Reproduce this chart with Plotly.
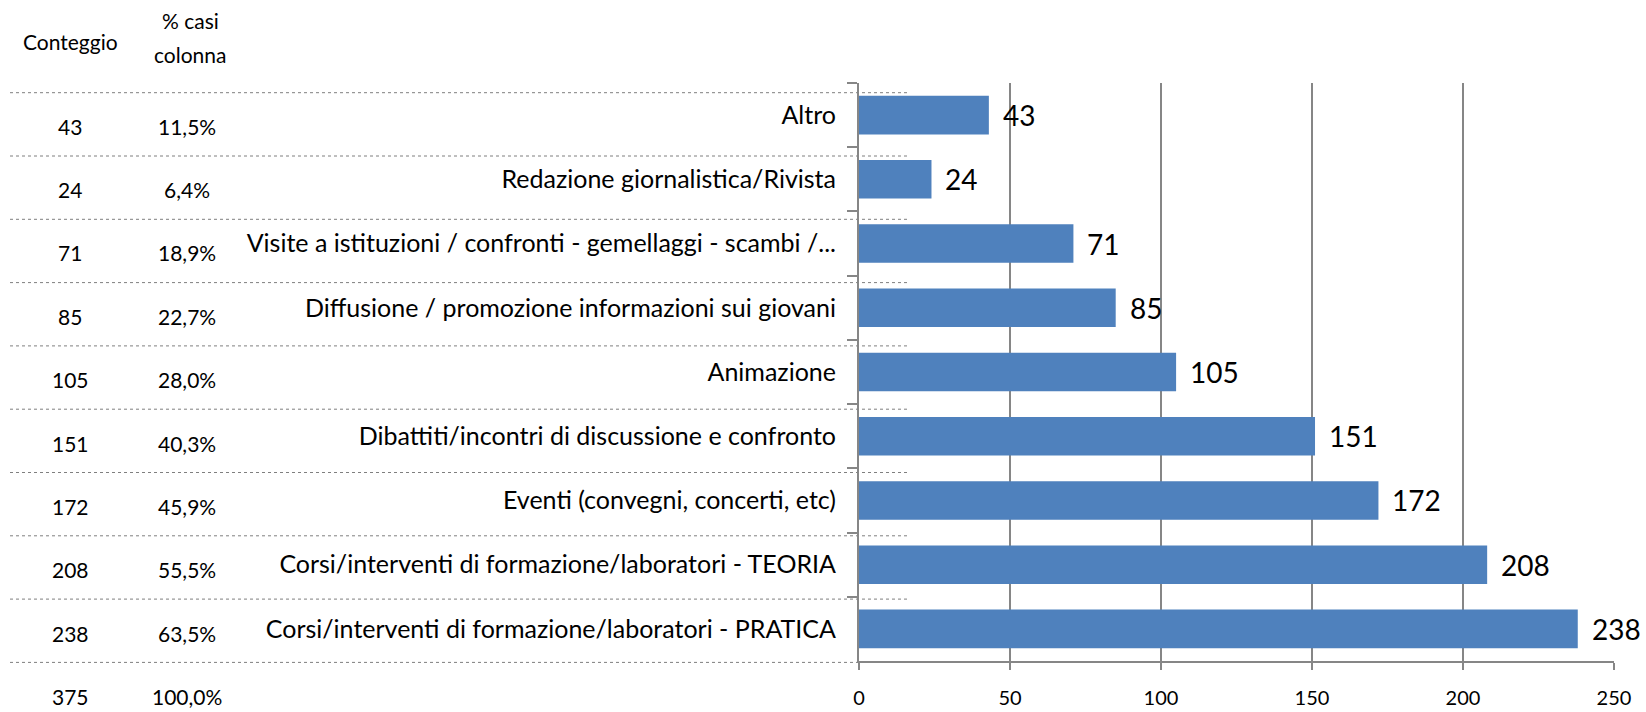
import plotly.graph_objects as go

# ---- data ----
categories = [
    "Altro",
    "Redazione giornalistica/Rivista",
    "Visite a istituzioni / confronti - gemellaggi - scambi /...",
    "Diffusione / promozione informazioni sui giovani",
    "Animazione",
    "Dibattiti/incontri di discussione e confronto",
    "Eventi (convegni, concerti, etc)",
    "Corsi/interventi di formazione/laboratori - TEORIA",
    "Corsi/interventi di formazione/laboratori - PRATICA",
]
counts = [43, 24, 71, 85, 105, 151, 172, 208, 238]
percents = ["11,5%", "6,4%", "18,9%", "22,7%", "28,0%", "40,3%", "45,9%", "55,5%", "63,5%"]
total_count = 375
total_percent = "100,0%"
header_count = "Conteggio"
header_pct = ["% casi", "colonna"]
x_ticks = [0, 50, 100, 150, 200, 250]

# ---- layout geometry (pixels) ----
W, H = 1646, 712
L, R, T, B = 859, 32, 83, 51
PW, PH = W - L - R, H - T - B

def px(x):
    return (x - L) / PW

def py(y):
    return 1 - (y - T) / PH

FONT = "Lato"
BLUE = "#4F81BD"
GRID = "#868686"

fig = go.Figure(go.Bar(
    x=counts, y=categories, orientation="h",
    marker=dict(color=BLUE, line=dict(width=0)),
    hoverinfo="x+y",
))

annotations = []
# value labels
for c, v in zip(categories, counts):
    annotations.append(dict(x=v, y=c, xref="x", yref="y", text=str(v),
                            showarrow=False, xanchor="left", xshift=12,
                            font=dict(family=FONT, size=28, color="black")))

# table on the left
TF = 21
col1_x, col2_x = 70, 187
annotations.append(dict(x=px(col1_x), y=py(42), xref="paper", yref="paper",
                        text=header_count, showarrow=False, xanchor="center",
                        yanchor="middle", font=dict(family=FONT, size=TF, color="black")))
for i, t in enumerate(header_pct):
    annotations.append(dict(x=px(190), y=py(21 + 34 * i), xref="paper", yref="paper",
                            text=t, showarrow=False, xanchor="center", yanchor="middle",
                            font=dict(family=FONT, size=TF, color="black")))
row0, rstep = 126, 63.4
for i, (c, p) in enumerate(zip(counts, percents)):
    yy = py(row0 + rstep * i)
    annotations.append(dict(x=px(col1_x), y=yy, xref="paper", yref="paper", text=str(c),
                            showarrow=False, xanchor="center", yanchor="middle",
                            font=dict(family=FONT, size=TF, color="black")))
    annotations.append(dict(x=px(col2_x), y=yy, xref="paper", yref="paper", text=p,
                            showarrow=False, xanchor="center", yanchor="middle",
                            font=dict(family=FONT, size=TF, color="black")))
yy = py(row0 + rstep * len(counts))
annotations.append(dict(x=px(col1_x), y=yy, xref="paper", yref="paper", text=str(total_count),
                        showarrow=False, xanchor="center", yanchor="middle",
                        font=dict(family=FONT, size=TF, color="black")))
annotations.append(dict(x=px(col2_x), y=yy, xref="paper", yref="paper", text=total_percent,
                        showarrow=False, xanchor="center", yanchor="middle",
                        font=dict(family=FONT, size=TF, color="black")))

# dotted separators
shapes = []
d0, dstep = 92.7, 63.3
for k in range(len(counts) + 1):
    yy = py(d0 + dstep * k)
    shapes.append(dict(type="line", xref="paper", yref="paper",
                       x0=px(10), x1=px(910), y0=yy, y1=yy,
                       line=dict(color="#7f7f7f", width=1, dash="dot"), layer="below"))

fig.update_layout(
    width=W, height=H,
    margin=dict(l=L, r=R, t=T, b=B, autoexpand=False),
    paper_bgcolor="white", plot_bgcolor="white",
    showlegend=False,
    bargap=0.4,
    annotations=annotations,
    shapes=shapes,
    font=dict(family=FONT, color="black"),
)
fig.update_xaxes(
    range=[0, 250], tickvals=x_ticks, ticktext=[str(t) for t in x_ticks],
    showgrid=True, gridcolor=GRID, gridwidth=2,
    showline=True, linecolor=GRID, linewidth=2,
    ticks="outside", ticklen=7, tickcolor=GRID, tickwidth=2,
    tickfont=dict(family=FONT, size=20, color="black"),
    ticklabelstandoff=11, zeroline=False, fixedrange=True,
)
fig.update_yaxes(
    categoryorder="array", categoryarray=categories, autorange="reversed",
    showgrid=False, showline=True, linecolor=GRID, linewidth=2,
    ticks="outside", tickson="boundaries", ticklen=10, tickcolor=GRID, tickwidth=2,
    tickfont=dict(family=FONT, size=25, color="black"),
    ticklabelstandoff=16, fixedrange=True,
)

fig.write_html(
    "out.html",
    config={"displayModeBar": False},
    post_script="document.body.style.margin='0';document.body.style.overflow='hidden';",
)
